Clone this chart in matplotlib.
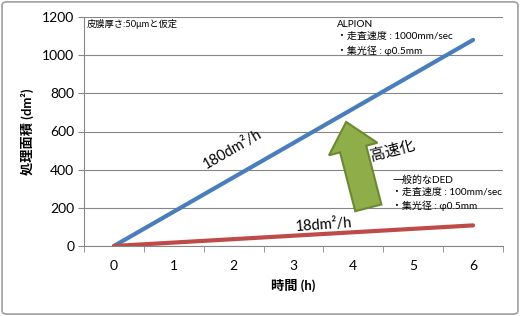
import matplotlib
matplotlib.use("Agg")
import matplotlib.pyplot as plt
from matplotlib.patches import FancyArrow, FancyBboxPatch

plt.rcParams["font.family"] = ["Lato", "Noto Sans CJK JP", "DejaVu Sans"]

# データ
hours = [0, 1, 2, 3, 4, 5, 6]
alpion_area = [0, 180, 360, 540, 720, 900, 1080]
ded_area = [0, 18, 36, 54, 72, 90, 108]
y_ticks = [0, 200, 400, 600, 800, 1000, 1200]

fig = plt.figure(figsize=(5.2, 3.16), dpi=100)
W, H = 520, 316
ax = fig.add_axes([84 / W, 1 - 246 / H, (503 - 84) / W, (246 - 17) / H])

ax.plot(hours, alpion_area, color="#4a7ebb", lw=3, solid_capstyle="round")
ax.plot(hours, ded_area, color="#be4b48", lw=3, solid_capstyle="round")

ax.set_xlim(-0.5, 6.5)
ax.set_ylim(0, 1200)
ax.set_yticks(y_ticks)
ax.set_xticks(hours)
ax.set_xticks([h - 0.5 for h in hours] + [6.5], minor=True)
ax.tick_params(axis="x", which="major", length=0, labelsize=10, pad=10)
ax.tick_params(axis="x", which="minor", length=4, color="#868686", direction="out")
ax.tick_params(axis="y", length=4, color="#868686", labelsize=10, pad=3)
ax.grid(axis="y", color="#868686", lw=0.8)
ax.set_axisbelow(True)
for s in ["top", "right"]:
    ax.spines[s].set_visible(False)
for s in ["left", "bottom"]:
    ax.spines[s].set_color("#868686")

ax.set_xlabel("時間 (h)", fontsize=9.5, fontweight="bold", labelpad=5)
ax.set_ylabel("処理面積 (dm²)", fontsize=9.5, fontweight="bold", labelpad=6)

ax.text(-0.45, 1165, "皮膜厚さ:50μmと仮定", fontsize=6.7, va="center")
ax.text(3.72, 1185, "ALPION\n・走査速度 : 1000mm/sec\n・集光径 : φ0.5mm",
        fontsize=7.2, va="top", linespacing=1.45)
ax.text(4.65, 372, "一般的なDED\n・走査速度 : 100mm/sec\n・集光径 : φ0.5mm",
        fontsize=7.2, va="top", linespacing=1.45)
ax.text(1.98, 505, "180dm²/h", fontsize=10.5, rotation=30, ha="center", va="center")
ax.text(3.5, 110, "18dm²/h", fontsize=10.5, rotation=4, ha="center", va="center")
ax.text(4.66, 500, "高速化", fontsize=11, rotation=15, ha="center", va="center")

# 矢印（ピクセル座標で描く）
fig.canvas.draw()
x0, y0 = ax.transData.transform((4.25, 200))
x1, y1 = ax.transData.transform((3.88, 650))
arrow = FancyArrow(x0, y0, x1 - x0, y1 - y0, width=27, head_width=50,
                   head_length=28, length_includes_head=True,
                   facecolor="#8fae4a", edgecolor="#6a8a32", lw=1.5, transform=None)
fig.patches.append(arrow)

frame = FancyBboxPatch((0.004, 0.006), 0.992, 0.988, boxstyle="round,pad=0,rounding_size=0.01",
                       transform=fig.transFigure, fill=False, edgecolor="#a0a0a0", lw=1.2)
fig.patches.append(frame)

fig.savefig("out.png", dpi=100)
